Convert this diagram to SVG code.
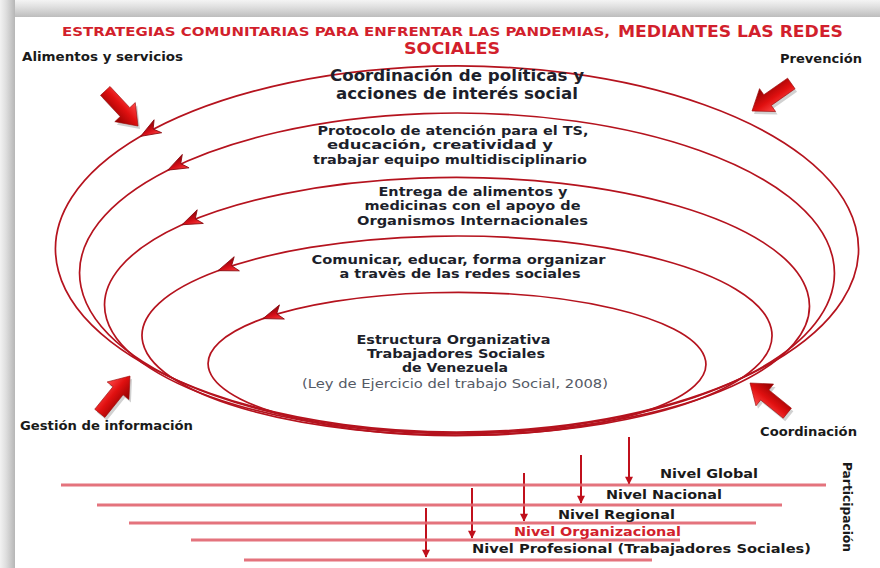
<svg xmlns="http://www.w3.org/2000/svg" width="880" height="568" viewBox="0 0 880 568">
<defs>
  <style>
    .ring{fill:none;stroke:#b5131e;stroke-width:1.7;marker-end:url(#ah)}
    .t{font-family:"DejaVu Sans","Verdana",sans-serif;font-weight:bold;fill:#1d1f2b;text-anchor:middle}
    .tc{font-family:"DejaVu Sans Condensed","DejaVu Sans",sans-serif;font-weight:bold;fill:#1a1a1a}
    .lvl{font-family:"DejaVu Sans Condensed","DejaVu Sans",sans-serif;font-weight:bold;font-size:13px;fill:#1a1a1a}
    .red{fill:#d21f2c}
    .hl{stroke:#e2646f;stroke-width:3;stroke-linecap:butt;opacity:0.9}
    .va{stroke:#c0101c;stroke-width:2;marker-end:url(#vh)}
    .big{fill:url(#bg);stroke:#9a0a0a;stroke-width:0.6}
    .sh{fill:#000;opacity:0.18}
  </style>
  <linearGradient id="lf" x1="0" y1="0" x2="1" y2="0">
    <stop offset="0" stop-color="#f2f2f2"/>
    <stop offset="0.4" stop-color="#dedede"/>
    <stop offset="1" stop-color="#b6b6b6"/>
  </linearGradient>
  <linearGradient id="tf" x1="0" y1="0" x2="0" y2="1">
    <stop offset="0" stop-color="#f4f4f4"/>
    <stop offset="0.4" stop-color="#e0e0e0"/>
    <stop offset="1" stop-color="#bdbdbd"/>
  </linearGradient>
  <linearGradient id="bg" x1="0" y1="0" x2="0" y2="1">
    <stop offset="0" stop-color="#ff4a4a"/>
    <stop offset="0.45" stop-color="#e01010"/>
    <stop offset="1" stop-color="#8e0000"/>
  </linearGradient>
  <linearGradient id="ag" x1="0" y1="0" x2="0" y2="1">
    <stop offset="0" stop-color="#ff3c3c"/>
    <stop offset="0.5" stop-color="#d40f18"/>
    <stop offset="1" stop-color="#8a0008"/>
  </linearGradient>
  <marker id="ah" viewBox="0 0 22 18" refX="21" refY="9" markerWidth="22" markerHeight="18" markerUnits="userSpaceOnUse" orient="auto">
    <path d="M21 9 L1 1.5 L6.5 9 L1 16.5 Z" fill="url(#ag)" stroke="#8a0a10" stroke-width="0.8"/>
  </marker>
  <marker id="vh" viewBox="0 0 10 10" refX="9" refY="5" markerWidth="10" markerHeight="8" markerUnits="userSpaceOnUse" orient="auto">
    <path d="M0 0 L10 5 L0 10 Z" fill="#c0101c"/>
  </marker>
  <path id="barrow" d="M-48 -6.5 L-19 -6.5 L-19 -14 L0 0 L-19 14 L-19 6.5 L-48 6.5 Z"/>
</defs>

<g id="frame">
  <rect x="0" y="0" width="880" height="568" fill="#ffffff"/>
  <rect x="0" y="0" width="880" height="17" fill="url(#tf)"/>
  <rect x="0" y="0" width="15" height="568" fill="url(#lf)"/>
</g>

<g id="title">
  <text x="62" y="36" font-family="DejaVu Sans Condensed,DejaVu Sans,sans-serif" font-weight="bold" font-size="12.5" class="red" textLength="548" lengthAdjust="spacingAndGlyphs">ESTRATEGIAS COMUNITARIAS PARA ENFRENTAR LAS PANDEMIAS,</text>
  <text x="618" y="37" font-family="DejaVu Sans Condensed,DejaVu Sans,sans-serif" font-weight="bold" font-size="16.5" class="red" textLength="225" lengthAdjust="spacingAndGlyphs">MEDIANTES LAS REDES</text>
  <text x="404" y="54" font-family="DejaVu Sans Condensed,DejaVu Sans,sans-serif" font-weight="bold" font-size="16.5" class="red" textLength="96" lengthAdjust="spacingAndGlyphs">SOCIALES</text>
</g>

<g id="connectors">
  <path id="ring-1" class="ring" d="M140.61 136.33 A401.5 183 0 0 0 773.39 361.67 A401.5 183 0 0 0 140.61 136.33"/>
  <path id="ring-2" class="ring" d="M167.82 170.15 A377.5 160 0 0 0 746.18 375.85 A377.5 160 0 0 0 167.82 170.15"/>
  <path id="ring-3" class="ring" d="M182 224.76 A353.5 128.5 0 0 0 732 386.24 A353.5 128.5 0 0 0 182 224.76"/>
  <path id="ring-4" class="ring" d="M218 270.68 A315 99.5 0 0 0 696 400.32 A315 99.5 0 0 0 218 270.68"/>
  <path id="ring-5" class="ring" d="M263 318.59 A250 72 0 0 0 651 409.41 A250 72 0 0 0 263 318.59"/>

  <g id="big-arrows">
    <use href="#barrow" class="sh" transform="translate(140 129) rotate(47)"/>
    <use href="#barrow" class="big" transform="translate(138 126) rotate(47)"/>
    <use href="#barrow" class="sh" transform="translate(754 114) rotate(145)"/>
    <use href="#barrow" class="big" transform="translate(752 111) rotate(145)"/>
    <use href="#barrow" class="sh" transform="translate(132 379) rotate(-51)"/>
    <use href="#barrow" class="big" transform="translate(130 376) rotate(-51)"/>
    <use href="#barrow" class="sh" transform="translate(752 386) rotate(-141)"/>
    <use href="#barrow" class="big" transform="translate(750 383) rotate(-141)"/>
  </g>

  <g id="level-arrows">
    <line class="va" x1="629" y1="437" x2="629" y2="484"/>
    <line class="va" x1="581" y1="455" x2="581" y2="503"/>
    <line class="va" x1="524" y1="473" x2="524" y2="521"/>
    <line class="va" x1="472" y1="488" x2="472" y2="538"/>
    <line class="va" x1="426" y1="508" x2="426" y2="557"/>
  </g>
</g>

<g id="node-coordinacion-politicas">
  <text class="t" x="457" y="81" font-size="15.5" textLength="254" lengthAdjust="spacingAndGlyphs">Coordinación de políticas y</text>
  <text class="t" x="457" y="99" font-size="15.5" textLength="242" lengthAdjust="spacingAndGlyphs">acciones de interés social</text>
</g>
<g id="node-protocolo">
  <text class="t" x="453" y="135" font-size="12.5" textLength="271" lengthAdjust="spacingAndGlyphs">Protocolo de atención para el TS,</text>
  <text class="t" x="440" y="149" font-size="12.5" textLength="226" lengthAdjust="spacingAndGlyphs">educación, creatividad y</text>
  <text class="t" x="450" y="164" font-size="12.5" textLength="274" lengthAdjust="spacingAndGlyphs">trabajar equipo multidisciplinario</text>
</g>
<g id="node-entrega">
  <text class="t" x="473" y="196" font-size="12.5" textLength="189" lengthAdjust="spacingAndGlyphs">Entrega de alimentos y</text>
  <text class="t" x="472.5" y="210" font-size="12.5" textLength="216" lengthAdjust="spacingAndGlyphs">medicinas con el apoyo de</text>
  <text class="t" x="472.5" y="225" font-size="12.5" textLength="231" lengthAdjust="spacingAndGlyphs">Organismos Internacionales</text>
</g>
<g id="node-comunicar">
  <text class="t" x="458.5" y="264" font-size="12.5" textLength="294" lengthAdjust="spacingAndGlyphs">Comunicar, educar, forma organizar</text>
  <text class="t" x="460" y="278" font-size="12.5" textLength="241" lengthAdjust="spacingAndGlyphs">a travès de las redes sociales</text>
</g>
<g id="node-estructura">
  <text class="t" x="453.5" y="344" font-size="12.5" textLength="194" lengthAdjust="spacingAndGlyphs">Estructura Organizativa</text>
  <text class="t" x="456" y="358" font-size="12.5" textLength="178" lengthAdjust="spacingAndGlyphs">Trabajadores Sociales</text>
  <text class="t" x="455" y="372" font-size="12" textLength="106" lengthAdjust="spacingAndGlyphs">de Venezuela</text>
  <text class="t" x="455" y="388" font-size="12" style="font-weight:normal;fill:#555a66" textLength="306" lengthAdjust="spacingAndGlyphs">(Ley de Ejercicio del trabajo Social, 2008)</text>
</g>

<g id="node-alimentos">
  <text class="tc" x="22" y="61" font-size="12" textLength="161" lengthAdjust="spacingAndGlyphs">Alimentos y servicios</text>
</g>
<g id="node-prevencion">
  <text class="tc" x="780" y="63" font-size="12" textLength="82" lengthAdjust="spacingAndGlyphs">Prevención</text>
</g>
<g id="node-gestion">
  <text class="tc" x="20" y="430" font-size="12" textLength="173" lengthAdjust="spacingAndGlyphs">Gestión de información</text>
</g>
<g id="node-coordinacion">
  <text class="tc" x="760" y="436" font-size="12" textLength="97" lengthAdjust="spacingAndGlyphs">Coordinación</text>
</g>

<g id="levels">
  <g id="nivel-global">
    <line class="hl" x1="61" y1="485" x2="826" y2="485"/>
    <text class="lvl" x="660" y="478" textLength="98" lengthAdjust="spacingAndGlyphs">Nivel Global</text>
  </g>
  <g id="nivel-nacional">
    <line class="hl" x1="97" y1="505" x2="782" y2="505"/>
    <text class="lvl" x="606" y="499" textLength="116" lengthAdjust="spacingAndGlyphs">Nivel Nacional</text>
  </g>
  <g id="nivel-regional">
    <line class="hl" x1="129" y1="523" x2="756" y2="523"/>
    <text class="lvl" x="558" y="519" textLength="117" lengthAdjust="spacingAndGlyphs">Nivel Regional</text>
  </g>
  <g id="nivel-organizacional">
    <line class="hl" x1="191" y1="540" x2="680" y2="540"/>
    <text class="lvl red" x="514" y="536" textLength="167" lengthAdjust="spacingAndGlyphs">Nivel Organizacional</text>
  </g>
  <g id="nivel-profesional">
    <line class="hl" x1="244" y1="560" x2="652" y2="560"/>
    <text class="lvl" x="472" y="553" textLength="339" lengthAdjust="spacingAndGlyphs">Nivel Profesional (Trabajadores Sociales)</text>
  </g>
  <g id="participacion">
    <text class="tc" font-size="12" transform="translate(843 462) rotate(90)" textLength="90" lengthAdjust="spacingAndGlyphs">Participación</text>
  </g>
</g>
</svg>
